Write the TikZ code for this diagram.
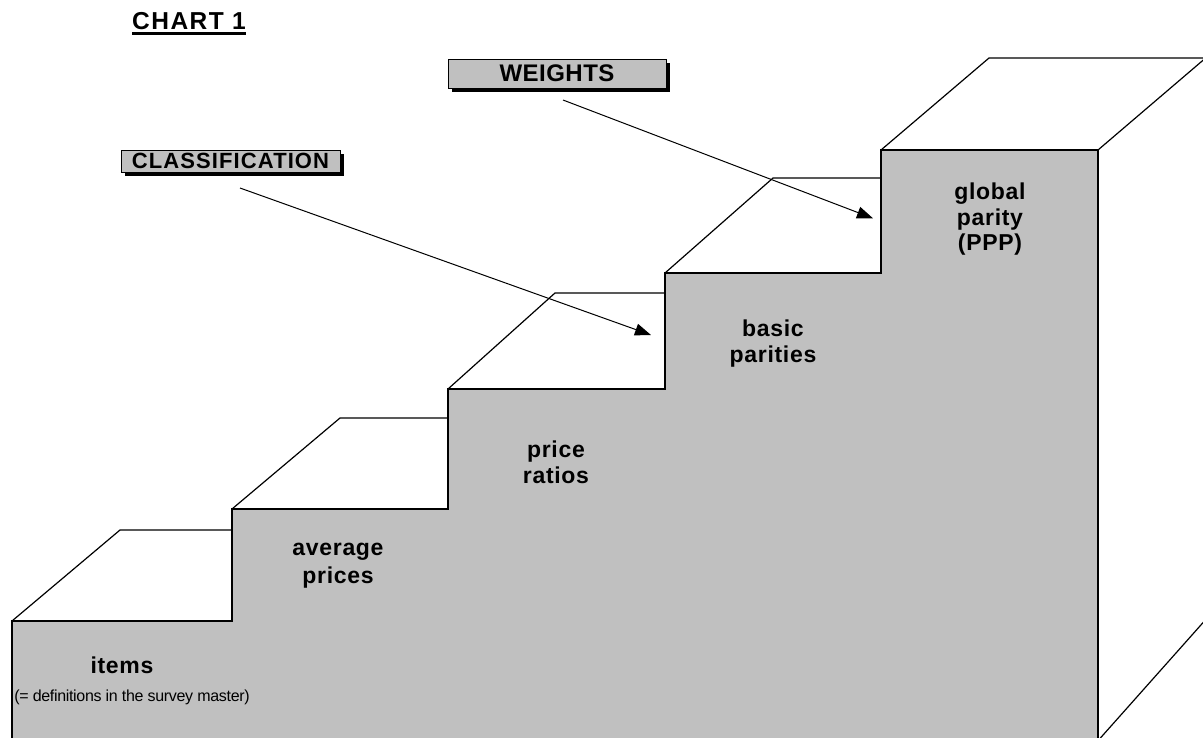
\documentclass[tikz,border=0pt]{standalone}
\usepackage{fontspec}
\setmainfont{Liberation Sans}
\usetikzlibrary{arrows.meta,shadows}
\definecolor{stairgray}{RGB}{192,192,192}
\begin{document}
\begin{tikzpicture}[x=1pt,y=-1pt,
  outline/.style={line width=1.7pt, line join=miter},
  tread/.style={line width=1.2pt, line join=miter},
  lbl/.style={anchor=base, inner sep=0pt, font=\fontsize{23}{27}\selectfont\bfseries\addfontfeature{LetterSpace=3}},
  note/.style={anchor=base, inner sep=0pt, font=\fontsize{16}{19}\selectfont\addfontfeature{LetterSpace=-2}},
  tagbox/.style={draw=black, line width=1pt, fill=stairgray, inner sep=0pt,
    drop shadow={shadow xshift=4pt, shadow yshift=-4pt, fill=black, opacity=1}},
  pointer/.style={line width=1pt, -{Triangle[length=16pt,width=12pt]}}
]
\useasboundingbox (0,0) rectangle (1203,737);
\clip (0,0) rectangle (1203,737);

% stairs (front face)
\fill[stairgray] (12,742) -- (12,621) -- (232,621) -- (232,509) -- (448,509) -- (448,389)
  -- (665,389) -- (665,273) -- (881,273) -- (881,150) -- (1098,150) -- (1098,742) -- cycle;
\draw[outline] (12,742) -- (12,621) -- (232,621) -- (232,509) -- (448,509) -- (448,389)
  -- (665,389) -- (665,273) -- (881,273) -- (881,150) -- (1098,150) -- (1098,742);

% treads
\draw[tread] (12,621) -- (120,530) -- (232,530);
\draw[tread] (232,509) -- (340,418) -- (448,418);
\draw[tread] (448,389) -- (555,293) -- (665,293);
\draw[tread] (665,273) -- (773,178) -- (881,178);
\draw[tread] (881,150) -- (989,58) -- (1208,58);
\draw[tread] (1098,150) -- (1208,56);
\draw[tread] (1099.5,739) -- (1208,617);

% title
\node[anchor=base, inner sep=0pt, font=\fontsize{24.5}{28}\selectfont\bfseries\addfontfeature{LetterSpace=6}] (chart) at (189,29) {CHART 1};
\draw[line width=3pt] ([yshift=-4pt]chart.base west) -- ([yshift=-4pt]chart.base east);

% tag boxes
\node[tagbox, minimum width=218pt, minimum height=29pt,
  font=\fontsize{24}{28}\selectfont\bfseries\addfontfeature{LetterSpace=2}] (weights) at (557,73.5) {WEIGHTS};
\node[tagbox, minimum width=219pt, minimum height=22pt,
  font=\fontsize{22}{26}\selectfont\bfseries\addfontfeature{LetterSpace=5}] (classif) at (230.5,161) {CLASSIFICATION};

% arrows
\coordinate (cs) at (240,188);
\coordinate (ce) at (651,335);
\coordinate (ws) at (563,100);
\coordinate (we) at (873,218.3);
\draw[pointer] (cs) -- (ce);
\draw[pointer] (ws) -- (we);

% step labels
\node[lbl] (items) at (122,673) {items};
\node[note] (itemsnote) at (132,701) {(= definitions in the survey master)};
\node[lbl] (avg1) at (338,555) {average};
\node[lbl] (avg2) at (338,583) {prices};
\node[lbl] (pr1) at (556,457) {price};
\node[lbl] (pr2) at (556,483) {ratios};
\node[lbl] (bp1) at (773,336) {basic};
\node[lbl] (bp2) at (773,362) {parities};
\node[lbl] (gp1) at (990,199) {global};
\node[lbl] (gp2) at (990,225) {parity};
\node[lbl] (gp3) at (990,250) {(PPP)};
\end{tikzpicture}
\end{document}
